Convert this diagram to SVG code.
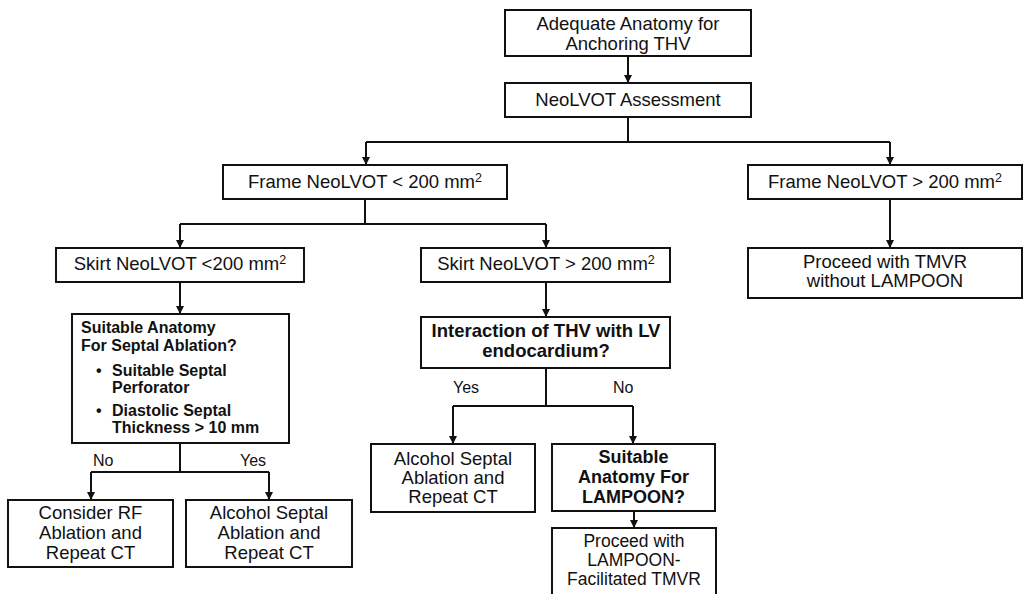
<svg xmlns="http://www.w3.org/2000/svg" width="1024" height="594" viewBox="0 0 1024 594">
<defs>
<marker id="ah" viewBox="0 0 10 10" refX="10" refY="5" markerWidth="8" markerHeight="8" markerUnits="userSpaceOnUse" orient="auto">
<path d="M0,0 L10,5 L0,10 z" fill="#111"/>
</marker>
<style>
.box{fill:#fff;stroke:#111;stroke-width:2}
.t{font-family:"Liberation Sans",Arial,sans-serif;font-size:18.5px;fill:#111;text-anchor:middle}
.b{font-family:"Liberation Sans",Arial,sans-serif;font-weight:bold;fill:#111}
.lbl{font-family:"Liberation Sans",Arial,sans-serif;font-size:16px;fill:#111}
.c{fill:none;stroke:#111;stroke-width:2}
.a{marker-end:url(#ah)}
.sup{font-size:12.5px}
</style>
</defs>
<rect width="1024" height="594" fill="#fff"/>
<g id="connectors">
<path class="c a" d="M628,56 V83"/>
<path class="c" d="M628,117 V142 M366,142 H890"/>
<path class="c a" d="M366,142 V165"/>
<path class="c a" d="M890,142 V165"/>
<path class="c" d="M365,199 V224 M180,224 H546"/>
<path class="c a" d="M180,224 V248"/>
<path class="c a" d="M546,224 V248"/>
<path class="c a" d="M890,199 V248"/>
<path class="c a" d="M180,282 V314"/>
<path class="c a" d="M546,282 V317"/>
<path class="c" d="M180,443 V472 M91,472 H269"/>
<path class="c a" d="M91,472 V500"/>
<path class="c a" d="M269,472 V500"/>
<path class="c" d="M546,368 V406 M453,406 H633"/>
<path class="c a" d="M453,406 V444"/>
<path class="c a" d="M633,406 V444"/>
<path class="c a" d="M634,511 V528"/>
<text class="lbl" x="93" y="466">No</text>
<text class="lbl" x="240" y="466">Yes</text>
<text class="lbl" x="453" y="393">Yes</text>
<text class="lbl" x="613" y="393">No</text>
</g>
<g id="n1">
<rect class="box" x="505" y="10" width="246" height="46"/>
<text class="t" x="628" y="30">Adequate Anatomy for</text>
<text class="t" x="628" y="50">Anchoring THV</text>
</g>
<g id="n2">
<rect class="box" x="505" y="83" width="246" height="34"/>
<text class="t" x="628" y="106">NeoLVOT Assessment</text>
</g>
<g id="n3">
<rect class="box" x="223" y="165" width="284" height="34"/>
<text class="t" x="365" y="188">Frame NeoLVOT &lt; 200 mm<tspan class="sup" dy="-6">2</tspan></text>
</g>
<g id="n4">
<rect class="box" x="748" y="165" width="274" height="34"/>
<text class="t" x="885" y="188">Frame NeoLVOT &gt; 200 mm<tspan class="sup" dy="-6">2</tspan></text>
</g>
<g id="n5">
<rect class="box" x="56" y="248" width="248" height="34"/>
<text class="t" x="180" y="270">Skirt NeoLVOT &lt;200 mm<tspan class="sup" dy="-6">2</tspan></text>
</g>
<g id="n6">
<rect class="box" x="421" y="248" width="249" height="34"/>
<text class="t" x="546" y="270">Skirt NeoLVOT &gt; 200 mm<tspan class="sup" dy="-6">2</tspan></text>
</g>
<g id="n7">
<rect class="box" x="748" y="248" width="274" height="50"/>
<text class="t" x="885" y="268">Proceed with TMVR</text>
<text class="t" x="885" y="287">without LAMPOON</text>
</g>
<g id="n8">
<rect class="box" x="72" y="314" width="217" height="129"/>
<text class="b" font-size="16" x="81" y="333">Suitable Anatomy</text>
<text class="b" font-size="16" x="81" y="351">For Septal Ablation?</text>
<text class="b" font-size="16" x="96" y="376">•</text>
<text class="b" font-size="16" x="112" y="376">Suitable Septal</text>
<text class="b" font-size="16" x="112" y="393">Perforator</text>
<text class="b" font-size="16" x="96" y="416">•</text>
<text class="b" font-size="16" x="112" y="416">Diastolic Septal</text>
<text class="b" font-size="16" x="112" y="433">Thickness &gt; 10 mm</text>
</g>
<g id="n9">
<rect class="box" x="421" y="317" width="249" height="51"/>
<text class="b" font-size="18.5" text-anchor="middle" x="546" y="337">Interaction of THV with LV</text>
<text class="b" font-size="18.5" text-anchor="middle" x="546" y="357">endocardium?</text>
</g>
<g id="n10">
<rect class="box" x="8" y="500" width="165" height="67"/>
<text class="t" x="90.5" y="519">Consider RF</text>
<text class="t" x="90.5" y="539">Ablation and</text>
<text class="t" x="90.5" y="559">Repeat CT</text>
</g>
<g id="n11">
<rect class="box" x="186" y="500" width="166" height="67"/>
<text class="t" x="269" y="519">Alcohol Septal</text>
<text class="t" x="269" y="539">Ablation and</text>
<text class="t" x="269" y="559">Repeat CT</text>
</g>
<g id="n12">
<rect class="box" x="371" y="444" width="164" height="68"/>
<text class="t" x="453" y="465">Alcohol Septal</text>
<text class="t" x="453" y="484">Ablation and</text>
<text class="t" x="453" y="503">Repeat CT</text>
</g>
<g id="n13">
<rect class="box" x="552" y="444" width="163" height="67"/>
<text class="b" font-size="18" text-anchor="middle" x="633.5" y="463">Suitable</text>
<text class="b" font-size="18" text-anchor="middle" x="633.5" y="483">Anatomy For</text>
<text class="b" font-size="18" text-anchor="middle" x="633.5" y="503">LAMPOON?</text>
</g>
<g id="n14">
<rect class="box" x="552" y="528" width="164" height="80"/>
<text class="t" font-size="17.5" x="634" y="547" style="font-size:17.5px">Proceed with</text>
<text class="t" x="634" y="566" style="font-size:17.5px">LAMPOON-</text>
<text class="t" x="634" y="585" style="font-size:17.5px">Facilitated TMVR</text>
</g>
</svg>
